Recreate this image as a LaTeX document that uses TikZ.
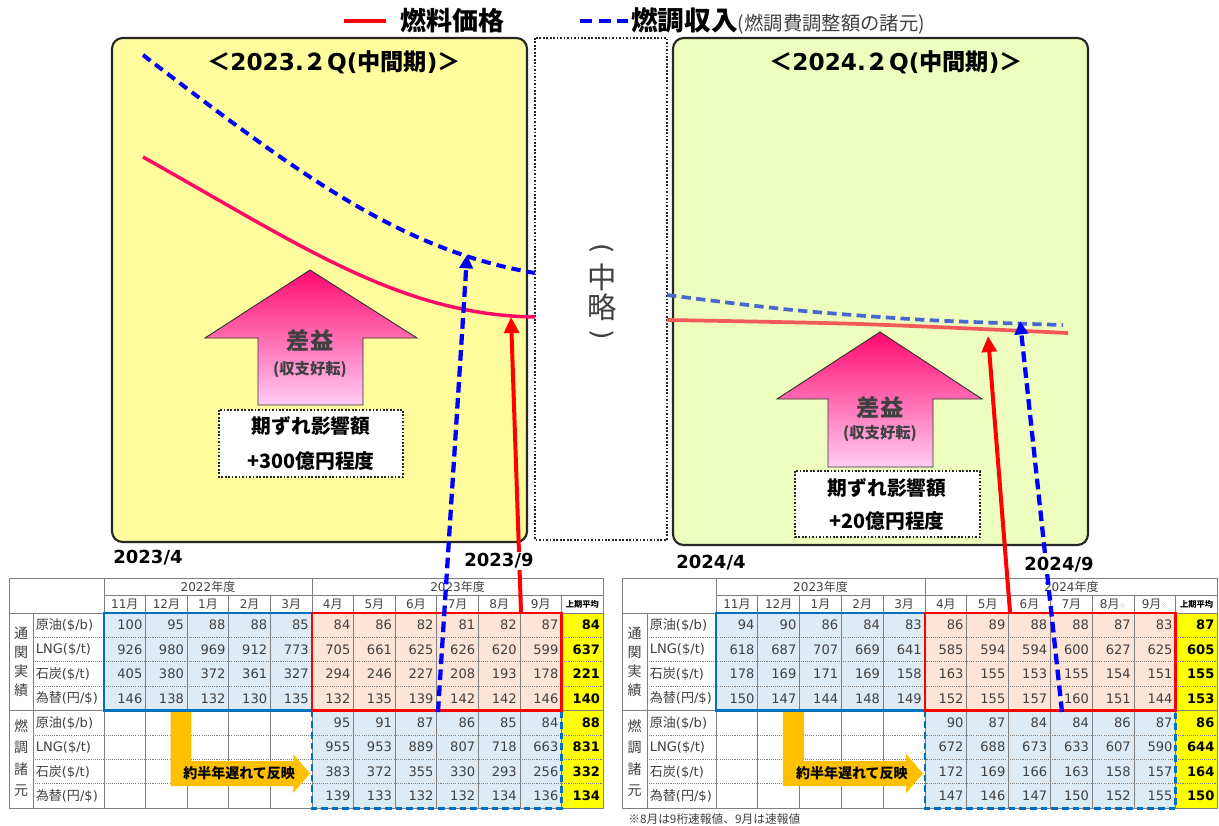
\documentclass[tikz,border=0pt]{standalone}
\usepackage{fontspec}
\usepackage{graphicx}
\setmainfont{DejaVu Sans}
\newfontfamily\jp{Noto Sans CJK JP}
\usetikzlibrary{arrows.meta}
\newcommand\JA[1]{{\jp #1}}
\newcommand\FS[1]{\fontsize{#1}{#1}\selectfont}
\definecolor{panelY}{HTML}{FFFC9E}
\definecolor{panelG}{HTML}{EDFDBD}
\definecolor{fillB}{HTML}{DDEBF7}
\definecolor{fillR}{HTML}{FCE4D6}
\definecolor{yel}{HTML}{FFFF00}
\definecolor{bordB}{HTML}{0070C0}
\definecolor{oran}{HTML}{FFC000}
\definecolor{gridc}{HTML}{7F7F7F}
\definecolor{txtg}{HTML}{404040}
\definecolor{curveR}{HTML}{FF0A64}
\definecolor{curveR2}{HTML}{F25A5A}
\definecolor{curveB2}{HTML}{4A66D0}
\definecolor{pinkT}{HTML}{FF0A6E}
\definecolor{pinkB}{HTML}{FFCCF5}
\definecolor{pureB}{HTML}{0000FF}
\definecolor{pureR}{HTML}{FF0000}

% #1 prefix, #2 X0, #3 X1, #4 X2, #5 W, #6 months, #7 yearA, #8 yearB, #9 data
\newcommand\FuelTable[9]{%
  \fill[fillB] (#4,613) rectangle ({#4+5*#5},710.6);
  \fill[fillR] ({#4+5*#5},613) rectangle ({#4+11*#5},710.6);
  \fill[fillB] ({#4+5*#5},710.6) rectangle ({#4+11*#5},808.2);
  \fill[yel] ({#4+11*#5},613) rectangle ({#4+12*#5},808.2);
  \draw[gridl] (#2,578) rectangle ({#4+12*#5},808.2);
  \draw[gridl] (#3,613) -- (#3,808.2);
  \draw[gridl] (#4,578) -- (#4,808.2);
  \foreach \k in {1,...,11} {\draw[gridl] ({#4+\k*#5},595.5) -- ({#4+\k*#5},808.2);}
  \draw[gridl] ({#4+5*#5},578) -- ({#4+5*#5},595.5);
  \draw[gridl] (#4,595.5) -- ({#4+12*#5},595.5);
  \draw[gridl] (#2,613) -- ({#4+12*#5},613);
  \draw[gridl] (#2,710.6) -- ({#4+12*#5},710.6);
  \foreach \yy in {637.4,661.8,686.2,735,759.4,783.8} {\draw[gridd] (#3,\yy) -- ({#4+12*#5},\yy);}
  \node[hdr] (#1yA) at ({#4+2.5*#5},587) {#7\JA{年度}};
  \node[hdr] (#1yB) at ({#4+8.5*#5},587) {#8\JA{年度}};
  \foreach \m [count=\c] in {#6} {\node[hdr] (#1m\c) at ({#4+(\c-0.5)*#5},604.5) {\m};}
  \node[avghdr] (#1avg) at ({#4+11.5*#5},604.5) {上期平均};
  \foreach \t [count=\r] in {{\JA{原油}(\$/b)},{LNG(\$/t)},{\JA{石炭}(\$/t)},{\JA{為替}(\JA{円}/\$)},{\JA{原油}(\$/b)},{LNG(\$/t)},{\JA{石炭}(\$/t)},{\JA{為替}(\JA{円}/\$)}}
    {\node[rowl] (#1l\r) at ({#3+2.5},{613+24.4*(\r-0.5)}) {\t};}
  \foreach \g [count=\r] in {通,関,実,績} {\node[grp] (#1ga\r) at ({(#2+#3)/2},{633.5+19*(\r-1)}) {\g};}
  \foreach \g [count=\r] in {燃,調,諸,元} {\node[grp] (#1gb\r) at ({(#2+#3)/2},{726+21.5*(\r-1)}) {\g};}
  \fill[oran] ({#4+1.6*#5},711.5) -- ({#4+2.1*#5},711.5) -- ({#4+2.1*#5},761) -- ({#4+4.55*#5},761) -- ({#4+4.55*#5},754) -- ({#4+5*#5-2},773.5) -- ({#4+4.55*#5},793) -- ({#4+4.55*#5},786) -- ({#4+1.6*#5},786) -- cycle;
  \node[font=\FS{10.5}\jp\bfseries, inner sep=0pt] (#1lag) at ({#4+3.25*#5},773.5) {約半年遅れて反映};
  \draw[bordB, line width=2.2pt, dash pattern=on 5pt off 3pt] ({#4+5*#5},710.6) rectangle ({#4+11*#5},808.2);
  \draw[bordB, line width=2.2pt] (#4,613) rectangle ({#4+5*#5},710.6);
  \draw[pureR, line width=2.2pt] ({#4+5*#5},613) rectangle ({#4+11*#5},710.6);
  \foreach \row [count=\r] in {#9} {
    \pgfmathtruncatemacro\off{\r>4 ? 5 : 0}
    \foreach \v [count=\c] in \row {
      \pgfmathtruncatemacro\cc{\c+\off}
      \node[num] (#1-\r-\cc) at ({#4+\cc*#5-3},{613+24.4*(\r-0.5)}) {\ifnum\cc=12 \bfseries\color{black}\fi\v};
    }
  }
}

\begin{document}
\begin{tikzpicture}[x=0.75pt,y=-0.75pt,
  hdr/.style={font=\FS{9}, text=txtg, inner sep=0pt},
  avghdr/.style={font=\FS{6.2}\jp\bfseries, text=black, inner sep=0pt},
  rowl/.style={font=\FS{9.8}, text=txtg, anchor=west, inner sep=0pt},
  num/.style={font=\FS{9.8}, text=txtg, anchor=east, inner sep=0pt},
  grp/.style={font=\FS{10.5}\jp, text=txtg, inner sep=0pt},
  gridl/.style={draw=gridc, line width=0.6pt},
  gridd/.style={draw=gridc, line width=0.5pt, dash pattern=on 0.8pt off 0.8pt},
  ttl/.style={font=\FS{17.4}\bfseries, inner sep=0pt},
  datel/.style={font=\FS{13.5}\bfseries, inner sep=1pt, fill=white},
  panel/.style={draw=black!85, line width=1.6pt, rounded corners=8pt},
  dotbox/.style={draw=black!85, line width=1.3pt, dash pattern=on 1.3pt off 1.3pt, fill=white},
  pinkarrow/.style={draw=black!80, line width=0.7pt, top color=pinkT, bottom color=pinkB},
  boxtxt/.style={font=\FS{14.8}\jp\bfseries, inner sep=0pt},
  paren/.style={font=\FS{20}\mdseries, text=txtg, inner sep=0pt},
  redarrow/.style={pureR, line width=3pt, -{Triangle[length=12pt,width=11pt]}},
  bluearrow/.style={pureB, line width=3.2pt, dash pattern=on 8pt off 4pt, -{Triangle[length=10pt,width=10pt]}}
]
\useasboundingbox (0,0) rectangle (1219,825);

% legend
\draw[pureR, line width=3pt] (344,21) -- (386,21);
\node[anchor=west, font=\FS{19.5}\jp\bfseries, inner sep=0pt] (leg1) at (400,21) {燃料価格};
\draw[pureB, line width=3pt, dash pattern=on 9pt off 5pt] (580,21) -- (628,21);
\node[anchor=west, inner sep=0pt] (leg2) at (631,21) {\FS{20}\jp\bfseries 燃調収入\FS{14.5}\mdseries\color{txtg}(燃調費調整額の諸元)};

% panels
\filldraw[panel, fill=panelY] (112,38) rectangle (527,542);
\filldraw[panel, fill=panelG] (673,38) rectangle (1088,545);
\draw[dotbox] (535,38) rectangle (667,540);
\node[paren] (p1) at (602,249) {\rotatebox{-90}{(}};
\node[font=\FS{22}\jp, text=txtg, inner sep=0pt] (p2) at (602,277) {中};
\node[font=\FS{22}\jp, text=txtg, inner sep=0pt] (p3) at (602,307) {略};
\node[paren] (p4) at (602,335) {\rotatebox{-90}{)}};

\node[ttl] (t1) at (334,62) {\JA{＜}2023.\JA{２}Q(\JA{中間期})\JA{＞}};
\node[ttl] (t2) at (896,62) {\JA{＜}2024.\JA{２}Q(\JA{中間期})\JA{＞}};

% left curves
\draw[curveR, line width=2.6pt] (143,157) .. controls (300,245) and (400,315) .. (535,317);
\draw[pureB, line width=3pt, dash pattern=on 7pt off 4.5pt] (143,55) .. controls (300,175) and (400,250) .. (535,273);
% right curves
\draw[curveR2, line width=2.8pt] plot[smooth] coordinates {(667,320) (860,324) (1068,333)};
\draw[curveB2, line width=2.8pt, dash pattern=on 7pt off 4pt] plot[smooth] coordinates {(667,295) (793,310) (927,320) (1063,325)};

% pink arrows
\shadedraw[pinkarrow] (310,270) -- (417,338) -- (363,338) -- (363,405) -- (258,405) -- (258,338) -- (205,338) -- cycle;
\node[font=\FS{17.5}\jp\bfseries, text=txtg, inner sep=0pt] (g1) at (310,341) {差益};
\node[font=\FS{11.5}\jp\bfseries, text=txtg, inner sep=0pt] (g1s) at (310,370) {(収支好転)};
\draw[dotbox] (219,410) rectangle (403,477);
\node[boxtxt] (b1a) at (311,426) {期ずれ影響額};
\node[boxtxt] (b1b) at (311,461) {+300\JA{億円程度}};

\shadedraw[pinkarrow] (880,332) -- (982,399) -- (933,399) -- (933,467) -- (828,467) -- (828,399) -- (777,399) -- cycle;
\node[font=\FS{17.5}\jp\bfseries, text=txtg, inner sep=0pt] (g2) at (880,408) {差益};
\node[font=\FS{11.5}\jp\bfseries, text=txtg, inner sep=0pt] (g2s) at (880,434) {(収支好転)};
\draw[dotbox] (795,471) rectangle (980,537);
\node[boxtxt] (b2a) at (887,488) {期ずれ影響額};
\node[boxtxt] (b2b) at (887,521) {+20\JA{億円程度}};

% tables
\FuelTable{L}{9}{33}{104}{41.6}{11\JA{月},12\JA{月},1\JA{月},2\JA{月},3\JA{月},4\JA{月},5\JA{月},6\JA{月},7\JA{月},8\JA{月},9\JA{月}}{2022}{2023}{{100,95,88,88,85,84,86,82,81,82,87,84},{926,980,969,912,773,705,661,625,626,620,599,637},{405,380,372,361,327,294,246,227,208,193,178,221},{146,138,132,130,135,132,135,139,142,142,146,140},{95,91,87,86,85,84,88},{955,953,889,807,718,663,831},{383,372,355,330,293,256,332},{139,133,132,132,134,136,134}}

\FuelTable{R}{622}{647}{716}{41.8}{11\JA{月},12\JA{月},1\JA{月},2\JA{月},3\JA{月},4\JA{月},5\JA{月},6\JA{月},7\JA{月},8\JA{月}{\color{gray!50}\FS{5}\JA{※}},9\JA{月}{\color{gray!50}\FS{5}\JA{※}}}{2023}{2024}{{94,90,86,84,83,86,89,88,88,87,83,87},{618,687,707,669,641,585,594,594,600,627,625,605},{178,169,171,169,158,163,155,153,155,154,151,155},{150,147,144,148,149,152,155,157,160,151,144,153},{90,87,84,84,86,87,86},{672,688,673,633,607,590,644},{172,169,166,163,158,157,164},{147,146,147,150,152,155,150}}

% connectors
\coordinate (Lred0) at (521,612);
\coordinate (Lred1) at (511,317);
\coordinate (Lblue0) at (438,712);
\coordinate (Lblue1) at (467,255);
\coordinate (Rred0) at (1010,612);
\coordinate (Rred1) at (988,336);
\coordinate (Rblue0) at (1062,712);
\coordinate (Rblue1) at (1020,321);
\draw[redarrow] (Lred0) -- (Lred1);
\draw[bluearrow] (Lblue0) -- (Lblue1);
\draw[redarrow] (Rred0) -- (Rred1);
\draw[bluearrow] (Rblue0) -- (Rblue1);

% date labels (over the connectors)
\node[datel] (d1) at (148,558) {2023/4};
\node[datel] (d2) at (499,561) {2023/9};
\node[datel] (d3) at (711,563) {2024/4};
\node[datel] (d4) at (1059,565) {2024/9};

\node[anchor=west, font=\FS{8.8}\jp, text=txtg, inner sep=0pt] (note) at (628,819) {※8月は9桁速報値、9月は速報値};
\end{tikzpicture}
\end{document}
